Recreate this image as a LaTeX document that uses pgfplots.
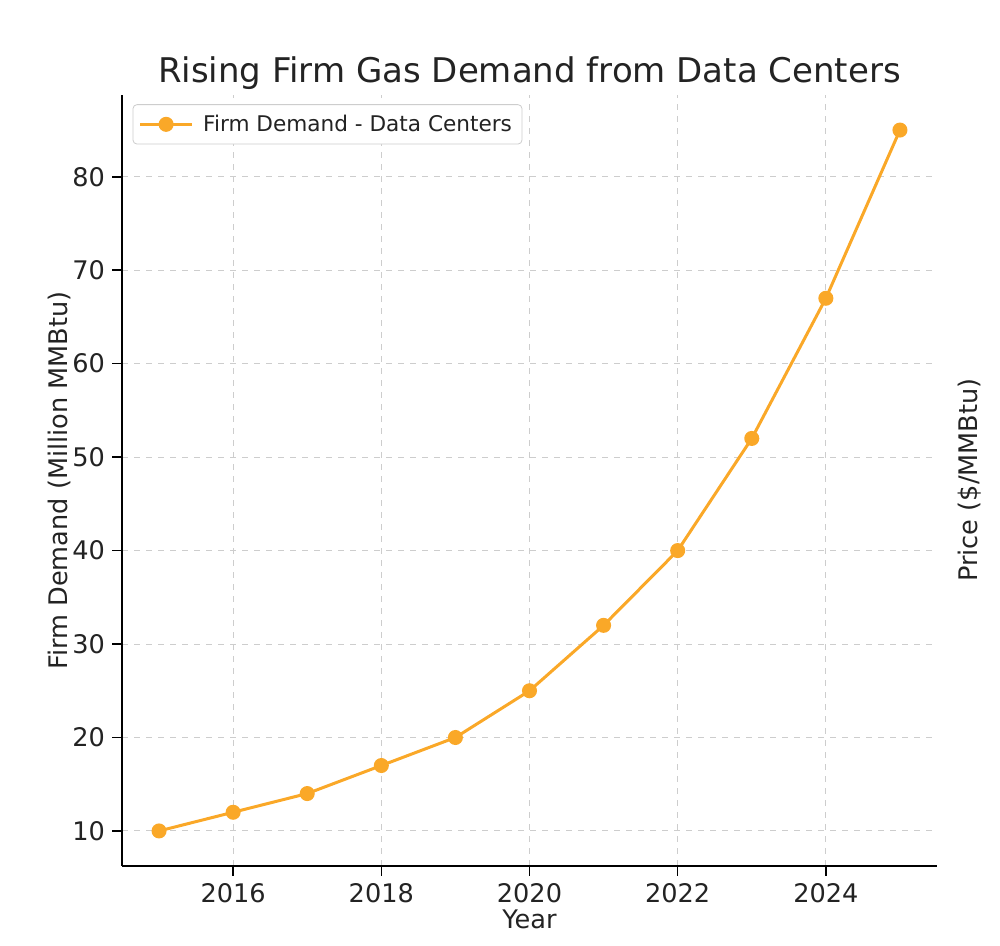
\documentclass[border=0pt]{standalone}
\usepackage{fontspec}
\setmainfont{DejaVu Sans}
\usepackage{pgfplots}
\pgfplotsset{compat=1.18}
\definecolor{demand}{RGB}{250,168,40}
\definecolor{txt}{RGB}{35,35,35}
\definecolor{gridc}{RGB}{205,205,205}

\begin{document}
\begin{tikzpicture}
  \useasboundingbox (-61pt,-40pt) rectangle (439pt,433pt);
  \begin{axis}[
    at={(0pt,0pt)}, anchor=south west,
    scale only axis,
    width=407.5pt, height=385.5pt,
    xmin=2014.5, xmax=2025.5,
    ymin=6.25, ymax=88.75,
    xtick={2016,2018,2020,2022,2024},
    ytick={10,20,30,40,50,60,70,80},
    xticklabel style={/pgf/number format/1000 sep={}},
    /pgf/number format/assume math mode=true,
    tick label style={font=\fontsize{12.8}{15}\selectfont, text=txt},
    axis x line*=bottom, axis y line*=left,
    axis line style={black, line width=0.8pt, -},
    tick style={black, line width=0.8pt},
    tickpos=left,
    major tick length=5pt,
    tick align=outside,
    grid=major,
    major grid style={gridc, dashed, line width=0.5pt},
    title={Rising Firm Gas Demand from Data Centers},
    title style={font=\fontsize{17}{20}\selectfont, text=txt, yshift=-7pt},
    xlabel={Year},
    ylabel={Firm Demand (Million MMBtu)},
    label style={font=\fontsize{12.8}{15}\selectfont, text=txt},
    xlabel style={yshift=3pt},
    ylabel style={yshift=-6pt},
    legend style={at={(0.013,0.988)}, anchor=north west,
      draw=gridc, rounded corners=2pt, fill=white,
      font=\fontsize{10.8}{13}\selectfont, text=txt,
      inner xsep=3pt, inner ysep=3pt,
      /tikz/every odd column/.append style={column sep=3pt}},
    legend image code/.code={
      \draw[mark repeat=2, mark phase=2]
        plot coordinates {(0cm,0cm) (0.45cm,0cm) (0.9cm,0cm)};
    },
    legend cell align=left,
  ]
    \addplot[demand, line width=1.5pt, mark=*, mark size=3pt,
      mark options={fill=demand, draw=demand}]
      coordinates {
        (2015,10) (2016,12) (2017,14) (2018,17) (2019,20) (2020,25)
        (2021,32) (2022,40) (2023,52) (2024,67) (2025,85)
      };
    \addlegendentry{Firm Demand - Data Centers}
  \end{axis}
  \node[rotate=90, font=\fontsize{12.8}{15}\selectfont, text=txt] at (424pt,193pt) {Price (\$/MMBtu)};
\end{tikzpicture}
\end{document}
